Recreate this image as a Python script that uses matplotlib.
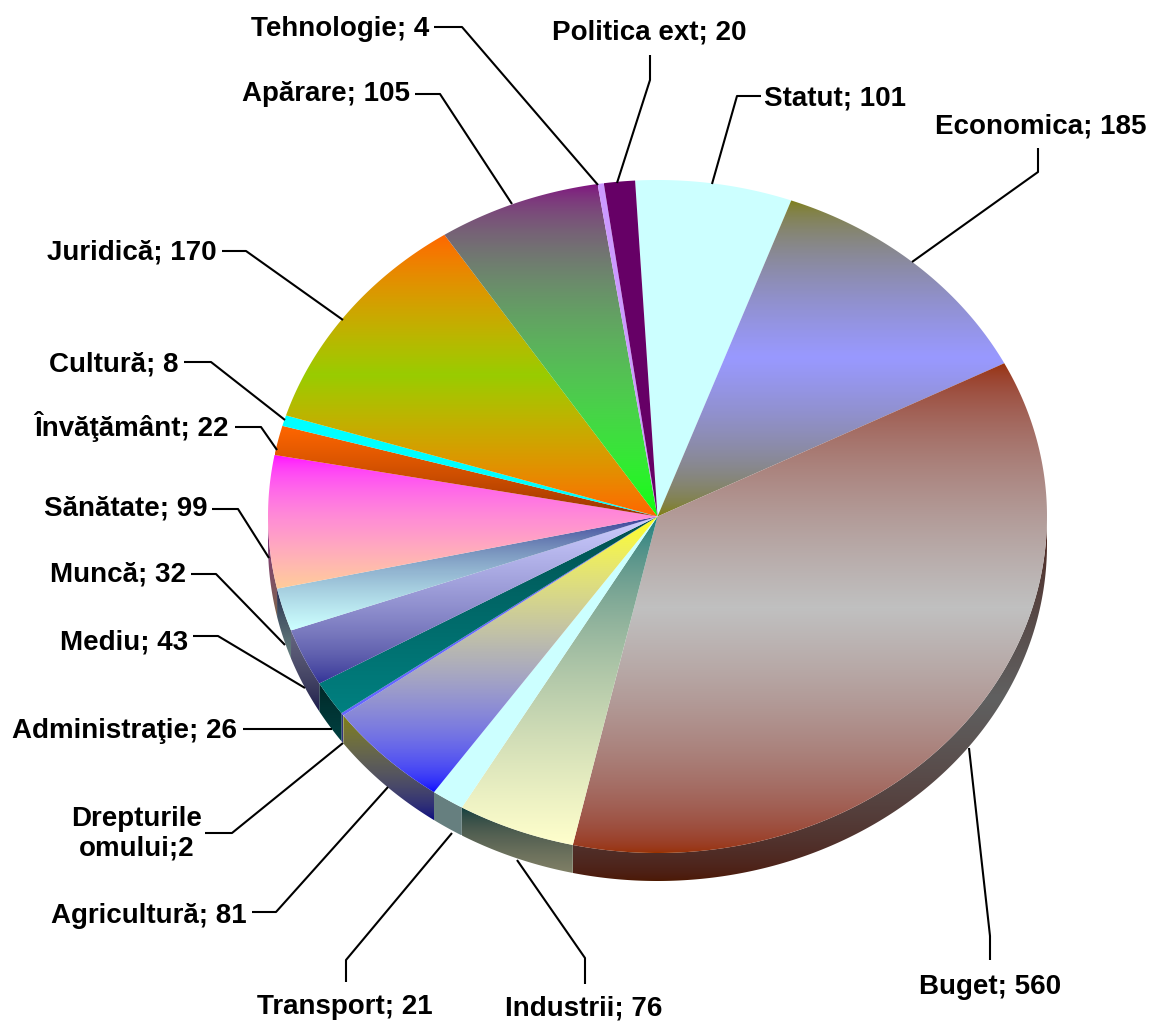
import numpy as np
import matplotlib
matplotlib.use("Agg")
import matplotlib.pyplot as plt
from matplotlib.colors import to_rgb
from matplotlib.patches import Polygon

# clockwise, starting from the top of the pie
names = ["Statut", "Economica", "Buget", "Industrii", "Transport", "Agricultură",
         "Drepturile omului", "Administraţie", "Mediu", "Muncă", "Sănătate",
         "Învăţământ", "Cultură", "Juridică", "Apărare", "Tehnologie", "Politica ext"]
values = [101, 185, 560, 76, 21, 81, 2, 26, 43, 32, 99, 22, 8, 170, 105, 4, 20]
labels = ["Statut; 101", "Economica; 185", "Buget; 560", "Industrii; 76", "Transport; 21",
          "Agricultură; 81", "Drepturile\nomului;2", "Administraţie; 26", "Mediu; 43",
          "Muncă; 32", "Sănătate; 99", "Învăţământ; 22", "Cultură; 8", "Juridică; 170",
          "Apărare; 105", "Tehnologie; 4", "Politica ext; 20"]

# gradient stops, top to bottom of each slice
fills = [
    ["#ccffff"],
    ["#808000", "#9999ff", "#808000"],
    ["#993300", "#c0c0c0", "#993300"],
    ["#008080", "#ffffcc"],
    ["#ccffff"],
    ["#ffff00", "#0000ff"],
    ["#6666ff"],
    ["#004d4d", "#008080"],
    ["#ccccff", "#333399"],
    ["#333399", "#ccffff"],
    ["#ff00ff", "#ffcc99"],
    ["#ff6600", "#993300"],
    ["#00ffff"],
    ["#ff6600", "#99cc00", "#ff6600"],
    ["#800080", "#00ff00"],
    ["#cc99ff"],
    ["#660066"],
]

# layout, all in pixels
W, H = 1152, 1023
CX, CY = 657.5, 516.5
RX, RY = 389.5, 336.5
DEPTH = 28
START_DEG = -3.3
GAMMA = 2.0

label_pos = [(835, 98), (1041, 126), (990, 987), (584, 1009), (345, 1007), (149, 916),
             (137, 834), (125, 731), (124, 642), (118, 574), (126, 509), (131, 427),
             (114, 364), (132, 252), (326, 94), (340, 29), (649, 33)]
leaders = [
    [(761, 96), (737, 96), (712, 184)],
    [(1038, 148), (1038, 172), (912, 262)],
    [(990, 960), (990, 936), (969, 748)],
    [(585, 984), (585, 958), (517, 860)],
    [(346, 982), (346, 960), (452, 833)],
    [(252, 912), (276, 912), (388, 787)],
    [(205, 833), (232, 833), (343, 743)],
    [(243, 729), (332, 729)],
    [(193, 636), (218, 636), (305, 688)],
    [(191, 574), (216, 574), (285, 645)],
    [(212, 509), (238, 509), (269, 558)],
    [(235, 427), (261, 427), (277, 450)],
    [(184, 362), (211, 362), (285, 420)],
    [(222, 251), (246, 251), (343, 320)],
    [(415, 94), (440, 94), (512, 204)],
    [(434, 27), (462, 27), (598, 185)],
    [(650, 55), (650, 80), (617, 183)],
]


def rim(theta_deg, drop=0.0):
    t = np.radians(theta_deg)
    return np.column_stack([CX + RX * np.sin(t), CY - RY * np.cos(t) + drop])


def fill_gradient(ax, points, stops, scale=1.0):
    patch = Polygon(points, closed=True, facecolor="none", edgecolor="none", transform=ax.transData)
    ax.add_patch(patch)
    rgb = np.array([to_rgb(c) for c in stops])
    top, bottom = points[:, 1].min(), points[:, 1].max()
    left, right = points[:, 0].min(), points[:, 0].max()
    n = max(int(bottom - top), 2)
    where = np.linspace(0, 1, n)
    anchors = np.linspace(0, 1, len(stops))
    if len(stops) == 1:
        grad = np.tile(rgb, (n, 1))
    else:
        # the blend is lighter halfway than a plain rgb mix
        grad = np.column_stack([np.interp(where, anchors, rgb[:, k] ** GAMMA) ** (1 / GAMMA) for k in range(3)])
    image = ax.imshow(grad[:, None, :] * scale, extent=(left, right, bottom, top), aspect="auto",
                      interpolation="nearest", zorder=patch.get_zorder())
    image.set_clip_path(patch)


plt.rcParams["font.family"] = ["Liberation Sans", "DejaVu Sans"]
fig = plt.figure(figsize=(W / 100, H / 100), dpi=100)
ax = fig.add_axes([0, 0, 1, 1])
ax.axis("off")

edges = START_DEG + np.concatenate([[0], np.cumsum(values)]) / sum(values) * 360

# side wall first, top faces go over it
for i, stops in enumerate(fills):
    a = max(edges[i], 90)
    b = min(edges[i + 1], 270)
    if b <= a:
        continue
    theta = np.linspace(a, b, 200)
    points = np.vstack([rim(theta), rim(theta[::-1], DEPTH)])
    fill_gradient(ax, points, stops, scale=0.5)

for i, stops in enumerate(fills):
    theta = np.linspace(edges[i], edges[i + 1], 300)
    points = np.vstack([[[CX, CY]], rim(theta)])
    fill_gradient(ax, points, stops)

for path in leaders:
    xs, ys = zip(*path)
    ax.plot(xs, ys, color="black", lw=1.5, solid_capstyle="butt", zorder=5)

for text, (x, y) in zip(labels, label_pos):
    ax.text(x, y, text, ha="center", va="center", fontsize=20, fontweight="bold",
            linespacing=1.15, color="black", zorder=6)

ax.set_xlim(0, W)
ax.set_ylim(H, 0)
fig.savefig("out.png", dpi=100, facecolor="white")
